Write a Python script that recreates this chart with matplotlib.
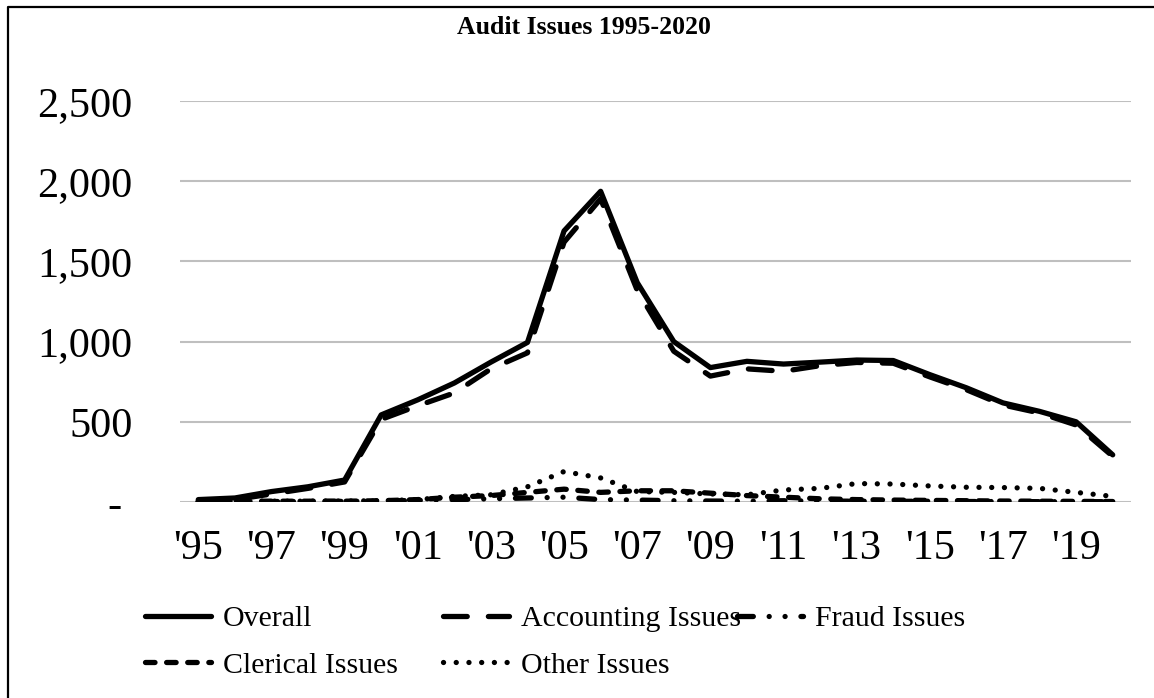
import numpy as np
import matplotlib
matplotlib.use("Agg")
from matplotlib import pyplot as plt
from matplotlib.lines import Line2D
from matplotlib.ticker import FuncFormatter

plt.rcParams['font.family'] = ['Liberation Serif', 'DejaVu Serif']

#Data
years = list(range(1995, 2021))
year_labels = ["'" + str(y)[2:] for y in years]
overall = [15, 25, 65, 95, 137, 543, 637, 742, 872, 995, 1690, 1937, 1368, 1000,
           838, 877, 860, 872, 885, 882, 794, 712, 618, 565, 500, 294]
accounting = [5, 15, 50, 85, 125, 515, 600, 680, 830, 930, 1620, 1890, 1320, 940,
              785, 830, 815, 850, 870, 865, 780, 700, 605, 555, 480, 285]
fraud = [2, 2, 3, 3, 4, 6, 10, 15, 20, 25, 30, 15, 12, 8,
         6, 5, 8, 6, 5, 4, 5, 3, 3, 2, 2, 2]
clerical = [3, 3, 5, 5, 5, 8, 15, 30, 40, 60, 80, 60, 70, 70,
            55, 40, 30, 20, 15, 12, 10, 8, 6, 5, 4, 3]
other = [3, 4, 5, 5, 6, 8, 15, 35, 45, 95, 190, 150, 65, 60,
         50, 45, 75, 85, 115, 112, 100, 92, 90, 85, 60, 35]

W, H = 1154, 698
fig = plt.figure(figsize=(W / 100, H / 100), dpi=100)
ax = fig.add_axes([180 / W, 1 - 502 / H, (1131 - 180) / W, (502 - 101) / H])

x = np.arange(len(years))
lw = 3.8
kw = dict(color='black', lw=lw, dash_capstyle='round', solid_capstyle='round',
          solid_joinstyle='round', dash_joinstyle='round')
l_overall, = ax.plot(x, overall, linestyle='-', label='Overall', zorder=6, **kw)
l_acc, = ax.plot(x, accounting, linestyle=(0, (4.5, 4)), label='Accounting Issues', zorder=5, **kw)
l_fraud, = ax.plot(x, fraud, linestyle=(0, (3, 3, 0.01, 3, 0.01, 3)), label='Fraud Issues', zorder=4, **kw)
l_cler, = ax.plot(x, clerical, linestyle=(0, (1.8, 2.2)), label='Clerical Issues', zorder=3, **kw)
l_other, = ax.plot(x, other, linestyle=(0, (0.01, 2.4)), label='Other Issues', zorder=2, **kw)

#Axes look
ax.set_xlim(-0.5, len(years) - 0.5)
ax.set_ylim(0, 2500)
ax.set_yticks(np.arange(0, 2501, 500))
ax.yaxis.set_major_formatter(FuncFormatter(lambda v, p: '- ' if v == 0 else '{:,.0f}'.format(v)))
ax.set_xticks(x[::2])
ax.set_xticklabels(year_labels[::2])
ax.tick_params(axis='both', length=0, labelsize=30.5)
ax.tick_params(axis='y', pad=34)
ax.tick_params(axis='x', pad=20)
ax.grid(axis='y', color='#BFBFBF', lw=1.5)
ax.set_axisbelow(True)
for s in ax.spines.values():
    s.set_visible(False)

fig.text(584 / W, 1 - 27 / H, 'Audit Issues 1995-2020', ha='center', va='center',
         fontsize=18.5, fontweight='bold')

#Legend: three columns placed like the original
leg_kw = dict(loc='center left', frameon=False, fontsize=21.5, handlelength=2.2,
              handletextpad=0.4, labelspacing=0.66, borderpad=0, borderaxespad=0)
leg1 = fig.legend([l_overall, l_cler], ['Overall', 'Clerical Issues'],
                  bbox_to_anchor=(145 / W, 1 - 642 / H), **leg_kw)
leg2 = fig.legend([l_acc, l_other], ['Accounting Issues', 'Other Issues'],
                  bbox_to_anchor=(443 / W, 1 - 642 / H), **leg_kw)
leg3 = fig.legend([l_fraud], ['Fraud Issues'],
                  bbox_to_anchor=(737 / W, 1 - 619 / H), **leg_kw)

#Chart border (left and top)
fig.add_artist(Line2D([8 / W, 8 / W, 1], [0, 1 - 7 / H, 1 - 7 / H],
                      transform=fig.transFigure, color='black', lw=1.6))

fig.savefig('out.png', dpi=100)
